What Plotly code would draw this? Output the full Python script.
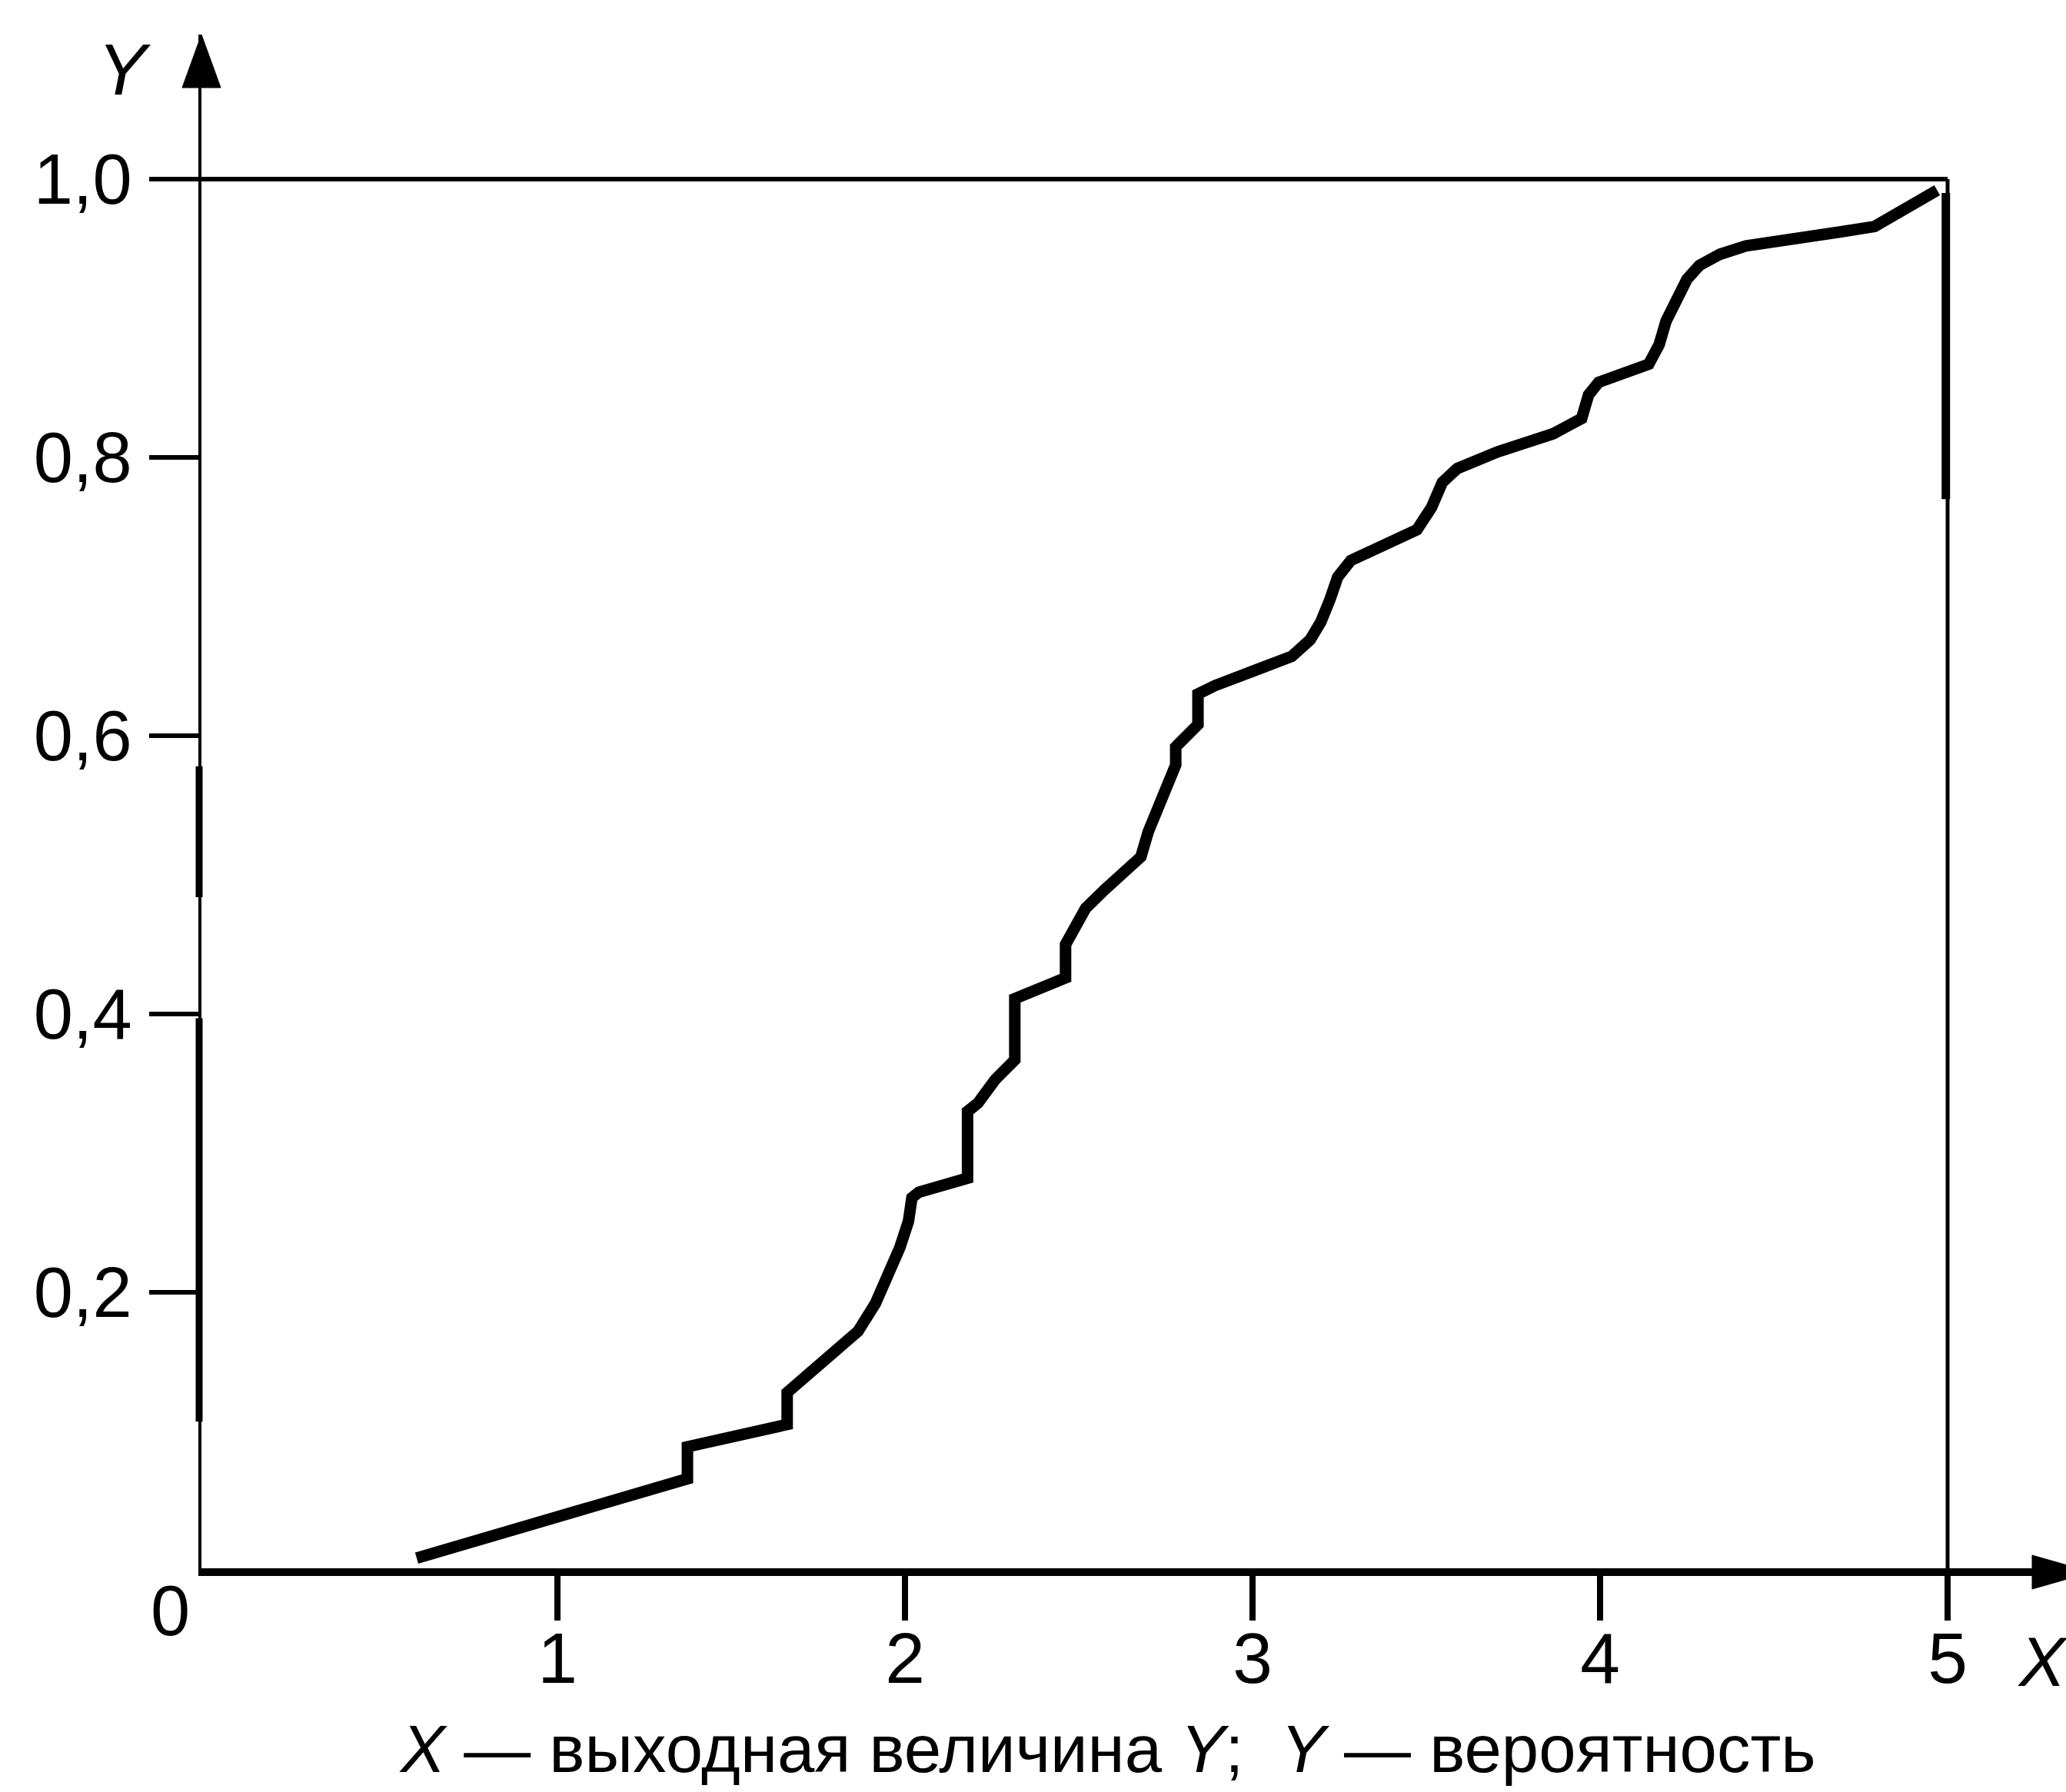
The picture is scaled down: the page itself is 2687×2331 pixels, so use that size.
import plotly.graph_objects as go

# ---- data (x = output quantity, y = probability) ----
x_vals = [0.595, 1.374, 1.374, 1.661, 1.661, 1.712, 1.80, 1.865, 1.915, 1.954,
          1.985, 2.01, 2.02, 2.04, 2.18, 2.18, 2.21, 2.26, 2.316, 2.316,
          2.385, 2.462, 2.462, 2.489, 2.52, 2.573, 2.637, 2.679, 2.70, 2.727,
          2.752, 2.779, 2.779, 2.816, 2.843, 2.843, 2.892, 3.018, 3.113, 3.166,
          3.197, 3.223, 3.245, 3.283, 3.389, 3.473, 3.515, 3.546, 3.589, 3.705,
          3.865, 3.947, 3.967, 3.996, 4.14, 4.17, 4.19, 4.22, 4.25, 4.286,
          4.345, 4.42, 4.55, 4.69, 4.79, 4.83, 4.896, 4.97]
y_vals = [0.009, 0.066, 0.089, 0.105, 0.128, 0.139, 0.156, 0.172, 0.192, 0.212,
          0.232, 0.251, 0.268, 0.272, 0.282, 0.330, 0.336, 0.353, 0.367, 0.411,
          0.418, 0.426, 0.450, 0.463, 0.476, 0.489, 0.502, 0.513, 0.531, 0.548,
          0.563, 0.579, 0.592, 0.600, 0.608, 0.630, 0.636, 0.648, 0.657, 0.669,
          0.682, 0.698, 0.714, 0.726, 0.738, 0.748, 0.764, 0.782, 0.792, 0.804,
          0.817, 0.828, 0.845, 0.854, 0.867, 0.881, 0.898, 0.915, 0.928, 0.938,
          0.946, 0.952, 0.956, 0.962, 0.966, 0.972, 0.982, 0.992]

x_ticks = [1, 2, 3, 4, 5]
y_ticks = [0.2, 0.4, 0.6, 0.8, 1.0]
x_title = "X"
y_title = "Y"
caption = "<i>X</i> — выходная величина <i>Y</i>;\u00a0 <i>Y</i> — вероятность"

# ---- layout geometry (pixels) ----
W, H = 2687, 2331
PL, PR, PT, PB = 262, 2687, 45, 2040
X0_PX, X_UNIT = 273.0, 452.0      # pixel of x=0, pixels per x unit
Y0_PX, Y_UNIT = 2043.0, 1810.0    # pixel of y=0, pixels per y unit

x_range = [(PL - X0_PX) / X_UNIT, (PR - X0_PX) / X_UNIT]
y_range = [(Y0_PX - PB) / Y_UNIT, (Y0_PX - PT) / Y_UNIT]


def px(p):
    return (p - PL) / (PR - PL)


def py(p):
    return (PB - p) / (PB - PT)


FONT = "Liberation Sans, Arial, Helvetica, sans-serif"

fig = go.Figure()
fig.add_trace(go.Scatter(x=x_vals, y=y_vals, mode="lines",
                         line=dict(color="black", width=15),
                         hoverinfo="skip", showlegend=False))

shapes = [
    # frame: top at Y=1 and right at X=5
    dict(type="line", xref="x", yref="y", x0=x_range[0], x1=5, y0=1, y1=1,
         line=dict(color="black", width=6)),
    dict(type="line", xref="x", yref="y", x0=5, x1=5, y0=0, y1=1,
         line=dict(color="black", width=5)),
    dict(type="line", xref="x", yref="y", x0=4.995, x1=4.995, y0=0.77, y1=0.99,
         line=dict(color="black", width=11)),
    # thicker parts of the scanned Y axis
    dict(type="line", xref="paper", yref="y", x0=px(259), x1=px(259), y0=0.107, y1=0.397,
         line=dict(color="black", width=9)),
    dict(type="line", xref="paper", yref="y", x0=px(259), x1=px(259), y0=0.484, y1=0.578,
         line=dict(color="black", width=9)),
    # arrow heads
    dict(type="path", xref="paper", yref="paper",
         path=f"M {px(262-25)} {py(114)} L {px(262)} {py(45)} L {px(262+25)} {py(114)} Z",
         fillcolor="black", line=dict(color="black", width=1)),
    dict(type="path", xref="paper", yref="paper",
         path=f"M {px(2643)} {py(2023)} L {px(2720)} {py(2045)} L {px(2643)} {py(2067)} Z",
         fillcolor="black", line=dict(color="black", width=1)),
]

annotations = [
    dict(text=f"<i>{y_title}</i>", xref="paper", yref="paper", x=px(162), y=py(90),
         xanchor="center", yanchor="middle", showarrow=False,
         font=dict(family=FONT, size=95, color="black")),
    dict(text="0", xref="paper", yref="paper", x=px(221), y=py(2095),
         xanchor="center", yanchor="middle", showarrow=False,
         font=dict(family=FONT, size=92, color="black")),
    dict(text=f"<i>{x_title}</i>", xref="paper", yref="paper", x=px(2622), y=py(2162),
         xanchor="left", yanchor="middle", showarrow=False,
         font=dict(family=FONT, size=90, color="black")),
    dict(text=caption, xref="paper", yref="paper", x=px(1440), y=py(2274),
         xanchor="center", yanchor="middle", showarrow=False,
         font=dict(family=FONT, size=87, color="black")),
]

fig.update_layout(
    width=W, height=H,
    margin=dict(l=PL, r=W - PR, t=PT, b=H - PB, pad=0),
    paper_bgcolor="white", plot_bgcolor="white",
    separators=",.",
    showlegend=False,
    shapes=shapes,
    annotations=annotations,
    xaxis=dict(range=x_range, tickvals=x_ticks, tickformat="d",
               showline=True, linecolor="black", linewidth=10,
               ticks="outside", ticklen=58, tickwidth=8, tickcolor="black",
               ticklabelstandoff=-31,
               showgrid=False, zeroline=False, fixedrange=True,
               tickfont=dict(family=FONT, size=93, color="black")),
    yaxis=dict(range=y_range, tickvals=y_ticks, tickformat=".1f",
               showline=True, linecolor="black", linewidth=4,
               ticks="outside", ticklen=64, tickwidth=6, tickcolor="black",
               ticklabelstandoff=4,
               showgrid=False, zeroline=False, fixedrange=True,
               tickfont=dict(family=FONT, size=92, color="black")),
)

fig.write_html("out.html", config={"displayModeBar": False},
               post_script="document.body.style.margin='0';document.body.style.overflow='hidden';")
